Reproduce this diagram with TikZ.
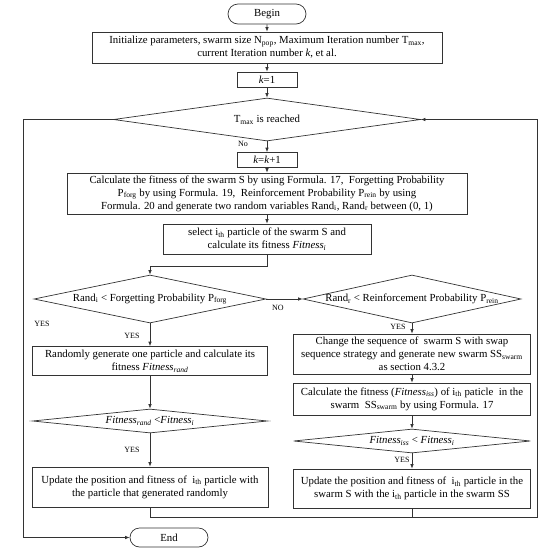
\documentclass[tikz,border=0pt]{standalone}
\usepackage{fontspec}
\setmainfont{Liberation Serif}
\usetikzlibrary{arrows.meta,shapes.geometric,shapes.misc}
\newcommand\sub[1]{\textsubscript{#1}}
\begin{document}
\begin{tikzpicture}[x=1pt,y=-1pt,
  line/.style={draw=black!80, line width=0.7pt},
  arr/.style={line, -{Latex[length=4.5pt,width=3.5pt]}},
  proc/.style={draw=black!80, line width=0.7pt, rectangle, inner sep=0pt, align=center, font=\fontsize{10.8}{13}\selectfont},
  term/.style={draw=black!80, line width=0.7pt, rounded rectangle, inner sep=0pt, font=\fontsize{10.8}{13}\selectfont},
  dec/.style={draw=black!80, line width=0.7pt, diamond, inner sep=0pt},
  dtext/.style={font=\fontsize{10.8}{13}\selectfont, inner sep=0pt},
  lab/.style={font=\fontsize{8}{9}\selectfont, inner sep=0pt}]
\useasboundingbox (0,0) rectangle (542,550);
% main column
\node[term, minimum width=78pt, minimum height=20pt] (begin) at (267,14) {Begin};
\node[proc, minimum width=350pt, minimum height=31pt] (init) at (267,47.5)
  {Initialize parameters, swarm size N\sub{pop}, Maximum Iteration number T\sub{max},\\
   current Iteration number \textit{k}, et al.};
\node[proc, minimum width=60pt, minimum height=15pt] (k1) at (267,79.5) {\textit{k}=1};
\node[dec, minimum width=307pt, minimum height=43pt] (tmax) at (267,119.5) {};
\node[dtext] (tmaxt) at (tmax) {T\sub{max} is reached};
\node[proc, minimum width=60pt, minimum height=15pt] (kk) at (267,160) {\textit{k}=\textit{k}+1};
\node[proc, minimum width=400pt, minimum height=41pt] (calc) at (267,193.5)
  {Calculate the fitness of the swarm S by using Formula. 17,~ Forgetting Probability\\
   P\sub{forg} by using Formula. 19,~ Reinforcement Probability P\sub{rein} by using\\
   Formula. 20 and generate two random variables Rand\sub{i}, Rand\sub{r} between (0, 1)};
\node[proc, minimum width=208pt, minimum height=30pt] (sel) at (267,239)
  {select i\sub{th} particle of the swarm S and\\
   calculate its fitness \textit{Fitness\sub{i}}};
% left column
\node[dec, minimum width=232pt, minimum height=48pt] (forg) at (150,299) {};
\node[dtext] (forgt) at (forg) {Rand\sub{i} < Forgetting Probability P\sub{forg}};
\node[proc, minimum width=235pt, minimum height=29pt] (rand) at (150,361)
  {Randomly generate one particle and calculate its\\
   fitness \textit{Fitness\sub{rand}}};
\node[dec, minimum width=235pt, minimum height=24pt] (fr) at (150,421) {};
\node[dtext] (frt) at (fr) {\textit{Fitness\sub{rand}} <\textit{Fitness\sub{i}}};
\node[proc, minimum width=236pt, minimum height=40pt] (updl) at (150,487)
  {Update the position and fitness of~ i\sub{th} particle with\\
   the particle that generated randomly};
% right column
\node[dec, minimum width=218pt, minimum height=48pt] (reinf) at (412,299) {};
\node[dtext] (reinft) at (reinf) {Rand\sub{r} < Reinforcement Probability P\sub{rein}};
\node[proc, minimum width=237pt, minimum height=40pt] (chg) at (412,354)
  {Change the sequence of~ swarm S with swap\\
   sequence strategy and generate new swarm SS\sub{swarm}\\
   as section 4.3.2};
\node[proc, minimum width=237pt, minimum height=32pt] (cfit) at (412,399)
  {Calculate the fitness (\textit{Fitness\sub{iss}}) of i\sub{th} paticle~ in the\\
   swarm~ SS\sub{swarm} by using Formula. 17};
\node[dec, minimum width=237pt, minimum height=24pt] (fiss) at (412,441) {};
\node[dtext] (fisst) at (fiss) {\textit{Fitness\sub{iss}} < \textit{Fitness\sub{i}}};
\node[proc, minimum width=237pt, minimum height=39pt] (updr) at (412,488.5)
  {Update the position and fitness of~ i\sub{th} particle in the\\
   swarm S with the i\sub{th} particle in the swarm SS};
\node[term, minimum width=78pt, minimum height=19pt] (end) at (169,537.5) {End};
% connectors
\draw[arr] (begin) -- (init);
\draw[arr] (init) -- (k1);
\draw[arr] (k1) -- (tmax);
\draw[arr] (tmax) -- (kk);
\draw[arr] (kk) -- (calc);
\draw[arr] (calc) -- (sel);
\draw[arr] (sel.south) -- ++(0,12) -| (forg.north);
\draw[arr] (forg.east) -- (reinf.west);
\draw[arr] (forg.south) -- (rand.north);
\draw[arr] (rand.south) -- (fr.north);
\draw[arr] (fr.south) -- (updl.north);
\draw[arr] (reinf.south) -- (chg.north);
\draw[arr] (chg) -- (cfit);
\draw[arr] (cfit) -- (fiss);
\draw[arr] (fiss.south) -- (updr.north);
\coordinate (rb) at (537,517);
\coordinate (rt) at (537,119.5);
\draw[arr] (updl.south) |- (rb) -- (rt) -- (tmax.east);
\draw[line] (updr.south) -- (updr.south |- rb);
\coordinate (lt) at (23,119.5);
\coordinate (lb) at (23,537.5);
\draw[arr] (tmax.west) -- (lt) -- (lb) -- (end.west);
% labels
\node[lab] (lno) at (243,144) {No};
\node[lab] (lNO) at (278,308) {NO};
\node[lab] (ly0) at (42,324) {YES};
\node[lab] (ly1) at (132,336) {YES};
\node[lab] (ly2) at (132,450) {YES};
\node[lab] (ly3) at (398,327) {YES};
\node[lab] (ly4) at (402,460) {YES};
\end{tikzpicture}
\end{document}
